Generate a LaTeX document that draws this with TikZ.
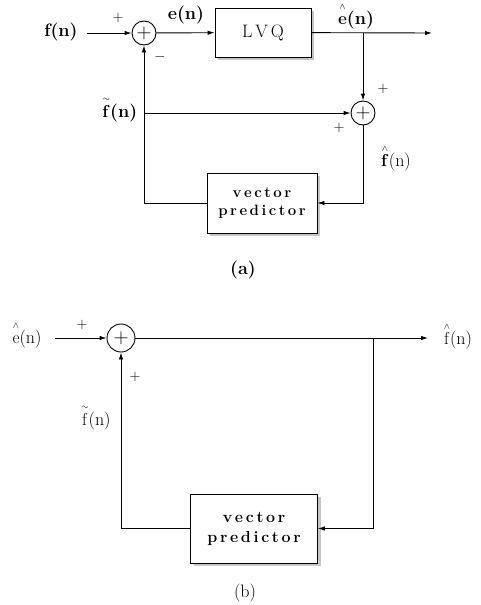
\documentclass[tikz,border=0pt]{standalone}
\usepackage{amsmath}
\usetikzlibrary{arrows.meta,shadows}

% accented signal names: #1 = accent, #2 = letter
\newcommand{\acc}[2]{$\overset{\scriptscriptstyle#1}{\vphantom{\mathrm{f}}#2}$}

\tikzset{
  blk/.style={draw, line width=0.9pt, fill=white, align=center,
    drop shadow={shadow xshift=3pt, shadow yshift=-3pt, fill=gray!45, opacity=1}},
  sumnode/.style={draw, circle, line width=0.9pt, inner sep=0pt, minimum size=#1,
    font=\fontsize{20}{20}\selectfont},
  sign/.style={font=\fontsize{15}{16}\selectfont},
}

\begin{document}
\begin{tikzpicture}[x=1pt, y=-1pt, >={Latex[length=7pt,width=4.5pt]}, line width=0.9pt,
    font=\fontsize{18}{21}\selectfont]
  \useasboundingbox (0,0) rectangle (481,605);
  % ---------------- (a) encoder ----------------
  \node[sumnode=24pt] (sumA) at (144,33) {$+$};
  \node[sumnode=24pt] (sumB) at (363,113) {$+$};
  \node[blk, minimum width=96pt, minimum height=49pt] (lvq) at (263,32.5) {L\,V\,Q};
  \node[blk, minimum width=110pt, minimum height=60pt, font=\fontsize{15}{18}\bfseries] (predA) at (262,203)
    {v\,e\,c\,t\,o\,r\\p\,r\,e\,d\,i\,c\,t\,o\,r};
  \coordinate (inA) at (87,33);
  \coordinate (outA) at (432,33);
  \coordinate (tapA) at (363,33);
  \coordinate (tapB) at (144,113);
  \draw[->] (inA) -- (sumA);
  \draw[->] (sumA) -- (lvq);
  \draw[->] (lvq) -- (outA);
  \draw[->] (tapA) -- (sumB);
  \draw[->] (tapB) -- (sumB);
  \draw[->] (sumB.south) |- (predA.east);
  \draw[->] (predA.west) -| (sumA.south);
  % labels
  \node (fA) at (61,32) {\bfseries f(n)};
  \node (eA) at (186,15) {\bfseries e(n)};
  \node (ehA) at (356,16) {\acc{\wedge}{\mathbf{e}}\bfseries(n)};
  \node[anchor=east] (ftA) at (141,109) {\acc{\sim}{\mathbf{f}}\bfseries(n)};
  \node (fhA) at (396,158) {\acc{\wedge}{\mathbf{f}}(n)};
  \node[sign] (pA) at (118,18) {$+$};
  \node[sign] (mA) at (160,57) {$-$};
  \node[sign] (pB) at (383,89) {$+$};
  \node[sign] (pC) at (339,128) {$+$};
  \node (capA) at (243,270) {\bfseries (a)};
  % ---------------- (b) decoder ----------------
  \node[sumnode=28pt] (sumC) at (121,338) {$+$};
  \node[blk, minimum width=127pt, minimum height=69pt, font=\fontsize{16}{20}\bfseries] (predB) at (254,528.5)
    {v\,e\,c\,t\,o\,r\\p\,r\,e\,d\,i\,c\,t\,o\,r};
  \coordinate (inB) at (55,338);
  \coordinate (outB) at (428,338);
  \coordinate (tapC) at (373,338);
  \draw[->] (inB) -- (sumC);
  \draw[->] (sumC) -- (outB);
  \draw[->] (tapC) |- (predB.east);
  \draw[->] (predB.west) -| (sumC.south);
  % labels
  \node (ehB) at (27,335) {\acc{\wedge}{\mathrm{e}}(n)};
  \node (fhB) at (458,336) {\acc{\wedge}{\mathrm{f}}(n)};
  \node (ftB) at (96,417) {\acc{\sim}{\mathrm{f}}(n)};
  \node[sign] (pD) at (82,325) {$+$};
  \node[sign] (pE) at (135,377) {$+$};
  \node (capB) at (245,593) {(b)};
\end{tikzpicture}
\end{document}
